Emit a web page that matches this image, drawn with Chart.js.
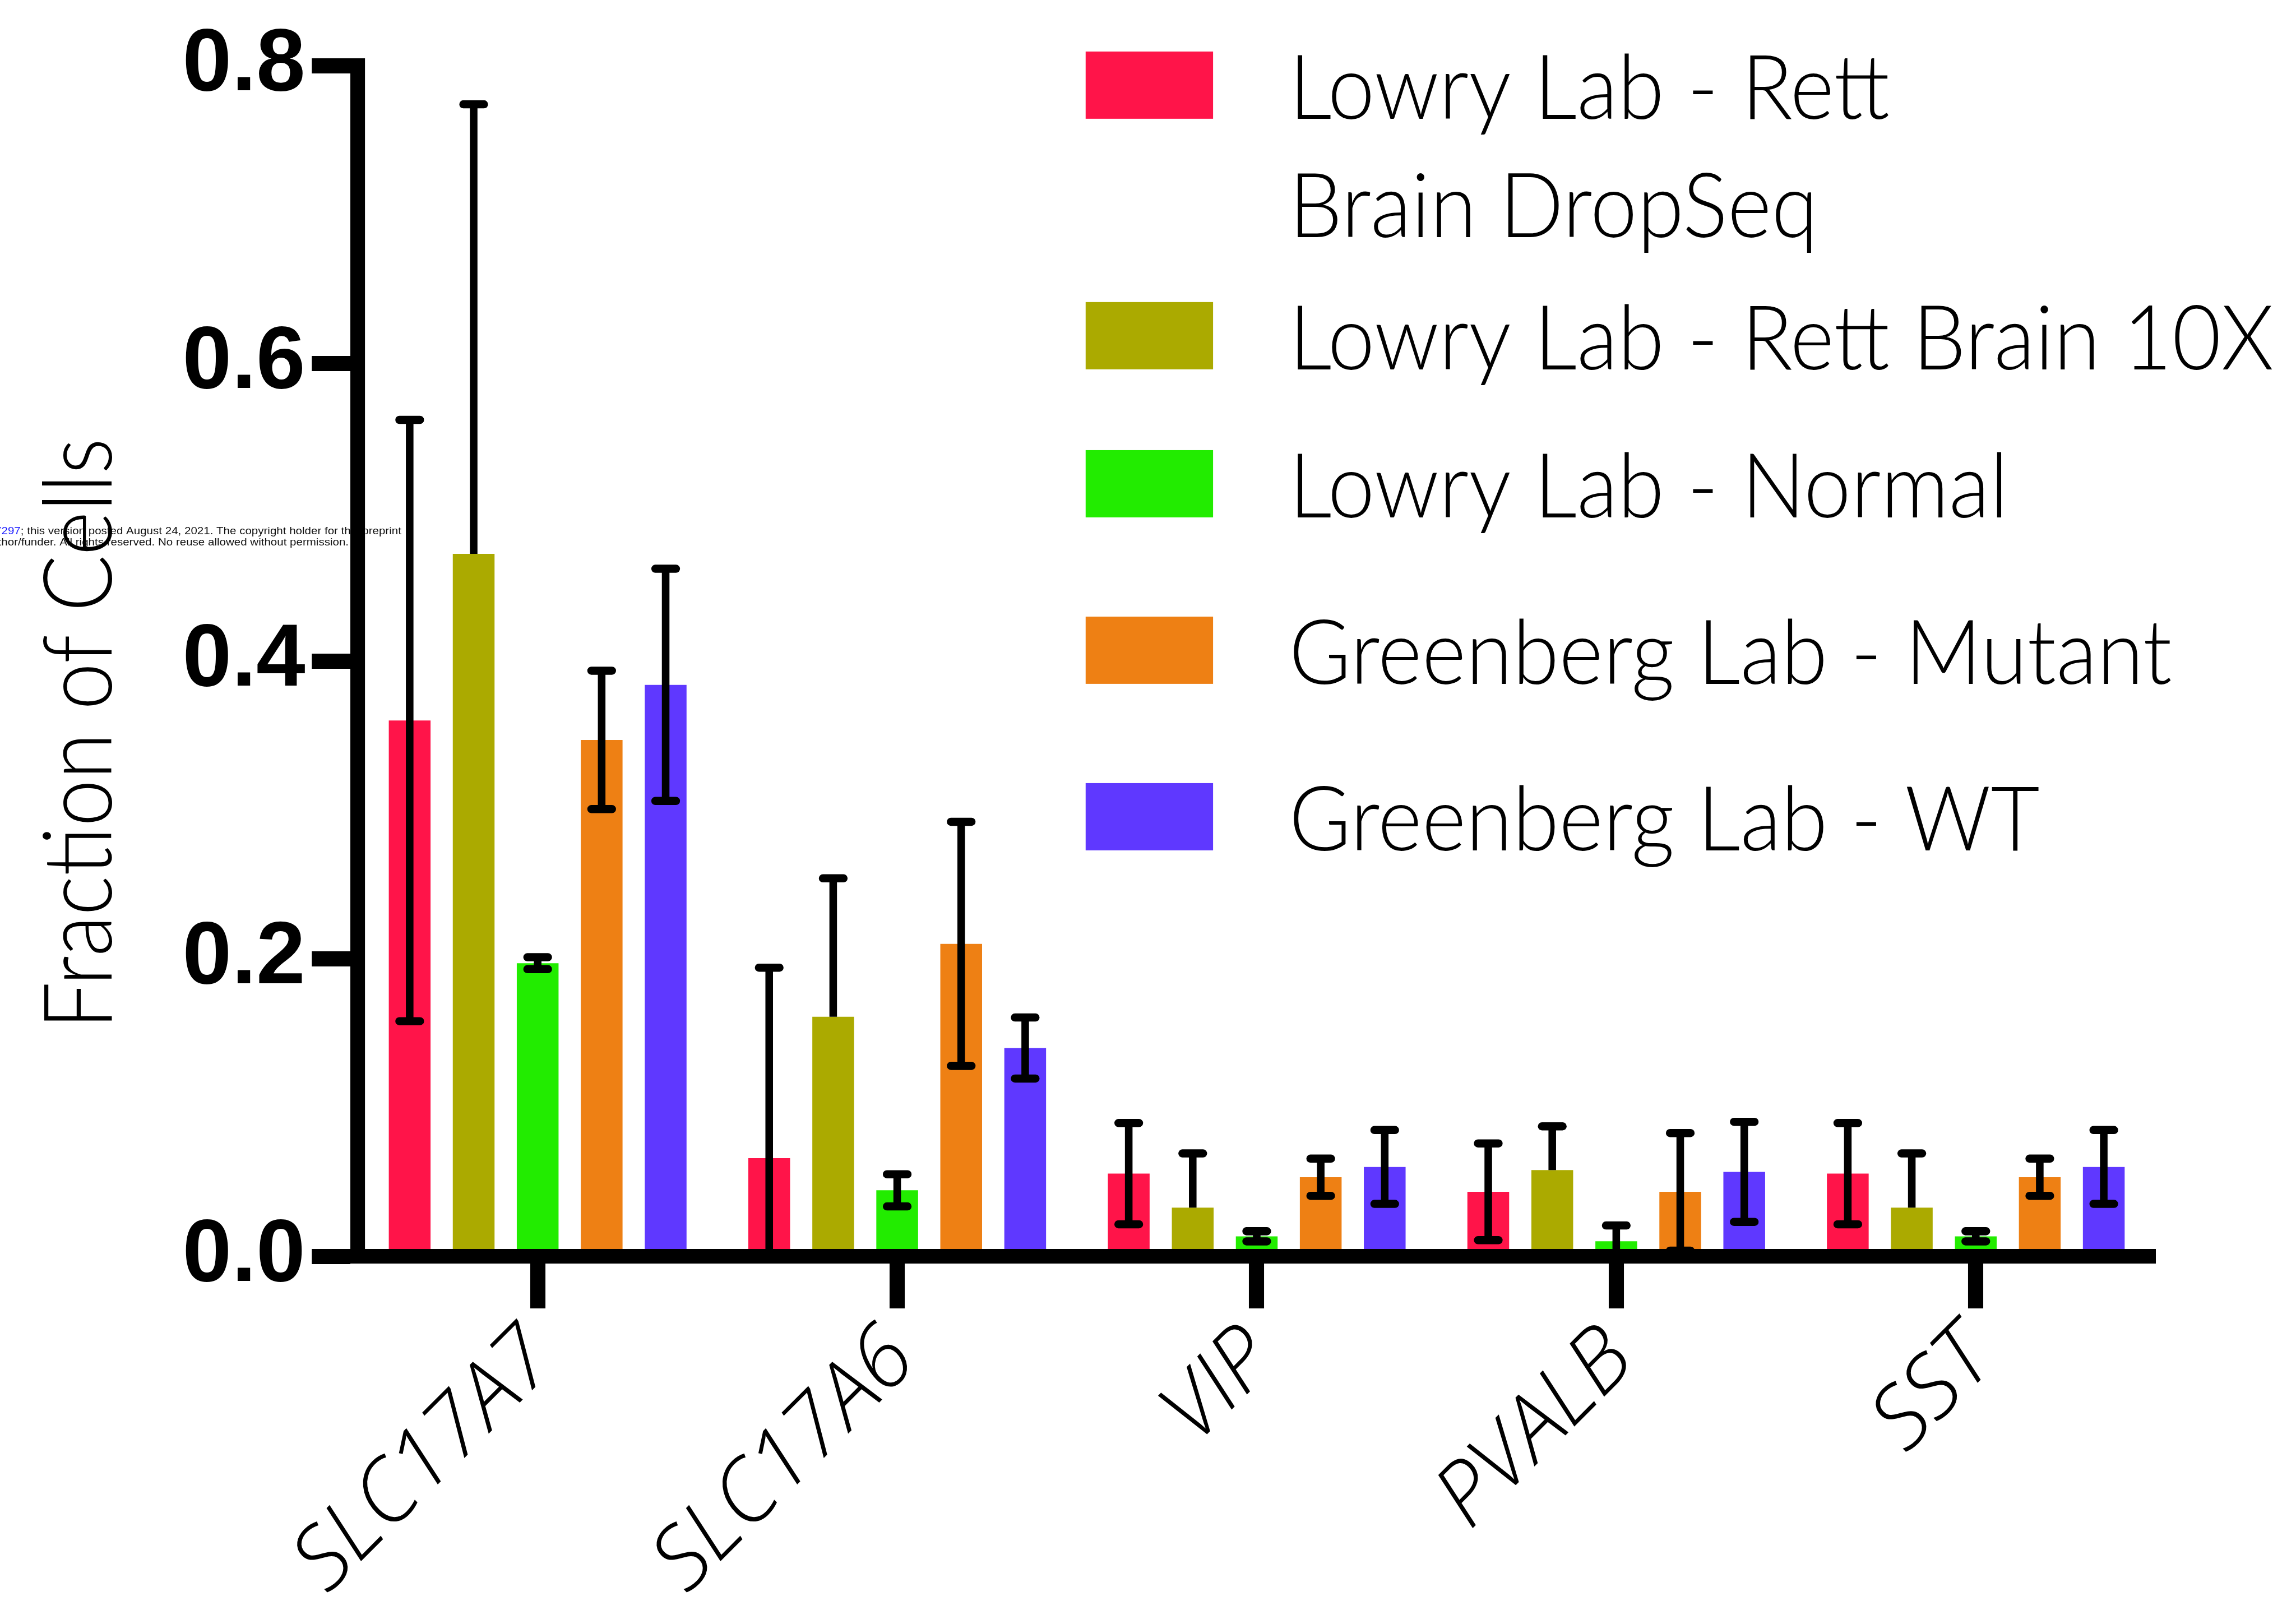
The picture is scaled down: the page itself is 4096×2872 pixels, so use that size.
<!DOCTYPE html>
<html>
<head>
<meta charset="utf-8">
<script src="https://cdn.jsdelivr.net/npm/chart.js@4/dist/chart.umd.min.js"></script>
<style>
  html, body { margin: 0; padding: 0; background: #ffffff; overflow: hidden; }
  #wrap { width: 4096px; height: 2872px; position: relative; }
  canvas { display: block; }
</style>
</head>
<body>
<div id="wrap"><canvas id="chart" width="4096" height="2872"></canvas></div>
<script>
// ---- data ----
const categories = ['SLC17A7', 'SLC17A6', 'VIP', 'PVALB', 'SST'];

const seriesLabels = [
  ['Lowry Lab - Rett', 'Brain DropSeq'],
  ['Lowry Lab - Rett Brain 10X'],
  ['Lowry Lab - Normal'],
  ['Greenberg Lab - Mutant'],
  ['Greenberg Lab - WT']
];

const rettDropSeqMean = [0.360, 0.066, 0.0556, 0.0434, 0.0556];
const rettDropSeqSD   = [0.202, 0.128, 0.034, 0.0325, 0.034];

const rett10xMean = [0.472, 0.161, 0.0328, 0.058, 0.0328];
const rett10xSD   = [0.302, 0.093, 0.0364, 0.0294, 0.0364];

const normalMean = [0.197, 0.0444, 0.0135, 0.0102, 0.0135];
const normalSD   = [0.004, 0.0108, 0.0034, 0.0106, 0.0034];

const mutantMean = [0.347, 0.210, 0.0532, 0.0434, 0.0532];
const mutantSD   = [0.0465, 0.082, 0.0125, 0.0395, 0.0125];

const wtMean = [0.384, 0.140, 0.0601, 0.0568, 0.0601];
const wtSD   = [0.078, 0.0205, 0.0248, 0.0336, 0.0248];

const yTickValues = [0, 0.2, 0.4, 0.6, 0.8];
const yAxisTitle = 'Fraction of Cells';

const noticeLink = '7297';
const noticeLine1 = '; this version posted August 24, 2021. The copyright holder for this preprint';
const noticeLine2 = 'author/funder. All rights reserved. No reuse allowed without permission.';

// ---- styling ----
const S = 4096 / 4234;           // drawing scale
const px = v => v * S;
const colors = ['#FF1449', '#ABAA00', '#22EC00', '#EE8014', '#5F38FF'];
const errorArms = ['both', 'up', 'both', 'both', 'both'];
const LEGEND = {
  swatchX: 2002, swatchW: 235, swatchH: 124, textX: 2377,
  baselines: [219, 681, 954, 1261, 1568], lineGap: 218,
  fontSize: 166, fitText: 'Lowry Lab - Rett Brain 10X', fitWidth: 1816
};
const LABEL_FONT = 'Lato, "Open Sans", sans-serif';
const CATEGORY_FONT = '"Open Sans", Lato, sans-serif';

const means = [rettDropSeqMean, rett10xMean, normalMean, mutantMean, wtMean];
const sds = [rettDropSeqSD, rett10xSD, normalSD, mutantSD, wtSD];

const datasets = seriesLabels.map((lines, i) => ({
  label: lines.join(' '),
  data: means[i],
  errors: sds[i],
  errorArm: errorArms[i],
  legendLines: lines,
  backgroundColor: colors[i],
  borderWidth: 0,
  categoryPercentage: 0.89,
  barPercentage: 0.6525
}));

// white page under everything, plus the preprint notice text
const backdrop = {
  id: 'backdrop',
  beforeDraw(chart) {
    const ctx = chart.ctx;
    ctx.save();
    ctx.fillStyle = '#ffffff';
    ctx.fillRect(0, 0, chart.width, chart.height);
    ctx.font = `${px(19)}px "Liberation Sans", Arial, sans-serif`;
    ctx.textBaseline = 'alphabetic';
    const w1 = ctx.measureText(noticeLine1).width;
    const sx = px(702) / w1;
    ctx.translate(px(740), px(985));
    ctx.scale(sx, 1);
    ctx.textAlign = 'right';
    ctx.fillStyle = '#111111';
    ctx.fillText(noticeLine1, 0, 0);
    ctx.fillStyle = '#1a1aff';
    ctx.fillText(noticeLink, -w1, 0);
    ctx.restore();
    ctx.save();
    ctx.font = `${px(19)}px "Liberation Sans", Arial, sans-serif`;
    ctx.translate(px(643), px(1006));
    ctx.scale(sx, 1);
    ctx.textAlign = 'right';
    ctx.fillStyle = '#111111';
    ctx.fillText(noticeLine2, 0, 0);
    ctx.restore();
  }
};

// mean +/- SD whiskers on every bar
const errorBars = {
  id: 'errorBars',
  afterDatasetsDraw(chart) {
    const { ctx, chartArea } = chart;
    const yScale = chart.scales.y;
    ctx.save();
    ctx.beginPath();
    ctx.rect(chartArea.left, 0, chartArea.right - chartArea.left, chartArea.bottom);
    ctx.clip();
    ctx.strokeStyle = '#000000';
    chart.data.datasets.forEach((ds, i) => {
      const meta = chart.getDatasetMeta(i);
      meta.data.forEach((bar, j) => {
        const m = ds.data[j], e = ds.errors[j];
        const x = bar.x;
        const yHi = yScale.getPixelForValue(m + e);
        const yLo = ds.errorArm === 'up' ? yScale.getPixelForValue(m) : yScale.getPixelForValue(m - e);
        ctx.lineCap = 'butt';
        ctx.lineWidth = px(14);
        ctx.beginPath();
        ctx.moveTo(x, yHi);
        ctx.lineTo(x, yLo);
        ctx.stroke();
        ctx.lineCap = 'round';
        ctx.lineWidth = px(15);
        const half = px(19);
        ctx.beginPath();
        ctx.moveTo(x - half, yHi);
        ctx.lineTo(x + half, yHi);
        if (ds.errorArm !== 'up') {
          ctx.moveTo(x - half, yLo);
          ctx.lineTo(x + half, yLo);
        }
        ctx.stroke();
      });
    });
    ctx.restore();
  }
};

// axis title and series key
const annotations = {
  id: 'annotations',
  afterDraw(chart) {
    const ctx = chart.ctx;
    // y axis title
    ctx.save();
    ctx.font = `300 ${px(176)}px ${LABEL_FONT}`;
    const tw = ctx.measureText(yAxisTitle).width;
    ctx.translate(px(206), px(1353));
    ctx.rotate(-Math.PI / 2);
    ctx.scale(px(1090) / tw, 1);
    ctx.textAlign = 'center';
    ctx.textBaseline = 'alphabetic';
    ctx.fillStyle = '#000000';
    ctx.fillText(yAxisTitle, 0, 0);
    ctx.restore();

    // legend
    ctx.save();
    ctx.font = `300 ${px(LEGEND.fontSize)}px ${LABEL_FONT}`;
    const sx = px(LEGEND.fitWidth) / ctx.measureText(LEGEND.fitText).width;
    chart.data.datasets.forEach((ds, i) => {
      const base = px(LEGEND.baselines[i]);
      ctx.fillStyle = ds.backgroundColor;
      ctx.fillRect(px(LEGEND.swatchX), base - px(LEGEND.swatchH), px(LEGEND.swatchW), px(LEGEND.swatchH));
      ctx.fillStyle = '#000000';
      ctx.textAlign = 'left';
      ctx.textBaseline = 'alphabetic';
      ds.legendLines.forEach((line, k) => {
        ctx.save();
        ctx.translate(px(LEGEND.textX), base + k * px(LEGEND.lineGap));
        ctx.scale(sx, 1);
        ctx.fillText(line, 0, 0);
        ctx.restore();
      });
    });
    ctx.restore();
  }
};

function build() {
  new Chart(document.getElementById('chart'), {
    type: 'bar',
    data: { labels: categories, datasets },
    options: {
      responsive: false,
      maintainAspectRatio: false,
      devicePixelRatio: 1,
      animation: false,
      layout: { padding: { left: 0, top: px(121), right: 4096 - px(3975), bottom: 0 } },
      plugins: { legend: { display: false }, tooltip: { enabled: false }, title: { display: false } },
      scales: {
        x: {
          type: 'category',
          offset: true,
          grid: {
            offset: false, drawOnChartArea: false, drawTicks: true,
            tickLength: px(96), tickWidth: px(28), tickColor: '#000000'
          },
          border: { display: true, width: px(27), color: '#000000', z: 1 },
          ticks: {
            autoSkip: false, minRotation: 45, maxRotation: 45, padding: 0, labelOffset: px(8),
            color: '#000000',
            font: { family: CATEGORY_FONT, style: 'italic', weight: '350', size: px(160) }
          },
          afterFit(scale) { scale.height = px(652); }
        },
        y: {
          min: 0, max: 0.8,
          afterBuildTicks(scale) { scale.ticks = yTickValues.map(v => ({ value: v })); },
          grid: {
            drawOnChartArea: false, drawTicks: true,
            tickLength: px(85), tickWidth: px(28), tickColor: '#000000'
          },
          border: { display: true, width: px(27), color: '#000000', z: 1 },
          ticks: {
            padding: px(12), color: '#000000',
            callback: v => Number(v).toFixed(1),
            font: { family: '"Liberation Sans", Arial, sans-serif', weight: 'bold', size: px(163) }
          },
          afterFit(scale) { scale.width = px(660); }
        }
      }
    },
    plugins: [backdrop, errorBars, annotations]
  });
}

Promise.all([
  document.fonts.load(`300 40px Lato`),
  document.fonts.load(`italic 350 40px "Open Sans"`),
  document.fonts.load(`bold 40px "Liberation Sans"`)
]).catch(() => {}).then(build);
</script>
</body>
</html>
